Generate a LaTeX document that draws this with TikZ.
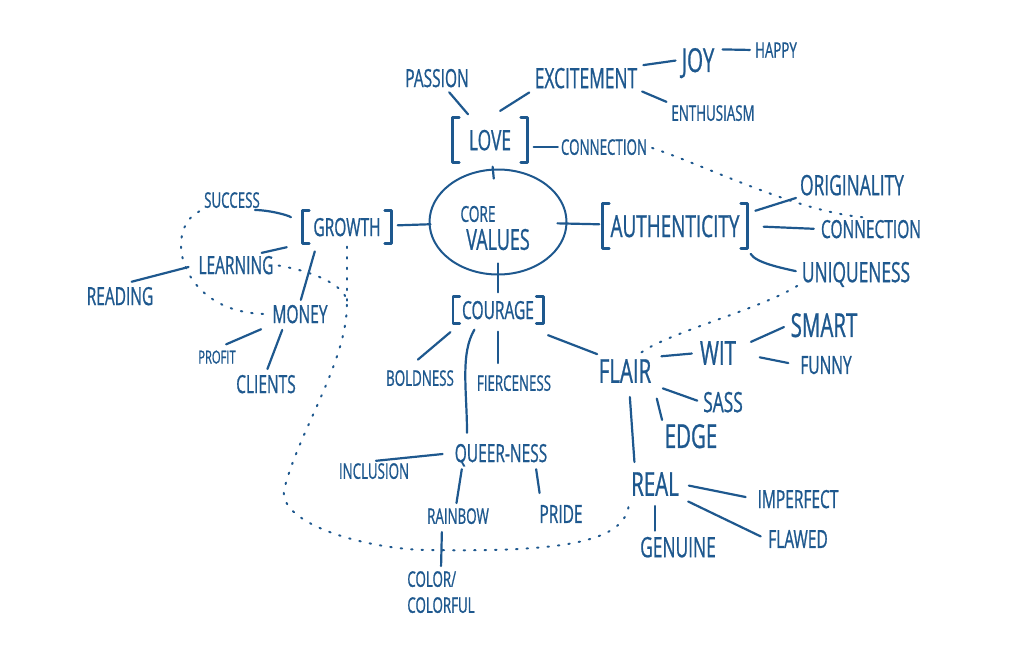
\documentclass[tikz,border=0pt]{standalone}
\usepackage{fontspec}
\setmainfont{Open Sans}[FakeStretch=0.62, FakeBold=0.8]
\usepackage{tikz}
\usetikzlibrary{shapes.geometric, calc}
\definecolor{ink}{RGB}{30,88,142}

\begin{document}
\begin{tikzpicture}[
    x=1pt, y=-1pt,
    word/.style={text=ink, inner sep=2pt, text depth=0pt},
    tinyword/.style={word, font=\fontsize{18}{20}\selectfont},
    smallword/.style={word, font=\fontsize{21.5}{24}\selectfont},
    midword/.style={word, font=\fontsize{25}{28}\selectfont},
    bigword/.style={word, font=\fontsize{28}{31}\selectfont},
    hugeword/.style={word, font=\fontsize{33}{36}\selectfont},
    value/.style={word, inner sep=0pt},
    bracket/.style={draw=ink, line width=2.6pt, line cap=round, line join=round},
    link/.style={draw=ink, line width=2.2pt, line cap=round, shorten <=4pt, shorten >=4pt},
    dots/.style={draw=ink, line width=2pt, line cap=round, dash pattern=on 1.5pt off 9pt, shorten <=3pt, shorten >=3pt}
]
\useasboundingbox (0,0) rectangle (1024,656);

% Core
\node[ellipse, draw=ink, line width=2pt, minimum width=137pt, minimum height=105pt, inner sep=0pt,
      align=center, text=ink, font=\fontsize{29}{28}\selectfont] (core) at (498,222)
      {\rule{0pt}{28pt}{\fontsize{22}{24}\selectfont CORE}\hspace{40pt}\mbox{}\\VALUES};

% Love branch
\node[value, bigword, minimum width=75pt, minimum height=45pt] (love) at (490,140) {LOVE};
\node[midword] (passion) at (437,78) {PASSION};
\node[bigword] (excite) at (586,78) {EXCITEMENT};
\node[hugeword] (joy) at (698,60) {JOY};
\node[smallword] (happy) at (776,50) {HAPPY};
\node[smallword] (enth) at (713,113) {ENTHUSIASM};
\node[smallword] (conn1) at (604,147) {CONNECTION};

% Growth branch
\node[value, midword, minimum width=89pt, minimum height=33pt] (growth) at (347,227) {GROWTH};
\node[smallword] (success) at (232,200) {SUCCESS};
\node[midword] (learning) at (236,265) {LEARNING};
\node[midword] (reading) at (120,296) {READING};
\node[midword] (money) at (300,314) {MONEY};
\node[tinyword] (profit) at (217,357) {PROFIT};
\node[midword] (clients) at (266,384) {CLIENTS};

% Authenticity branch
\node[value, font=\fontsize{30.5}{33}\selectfont, minimum width=145pt, minimum height=45pt] (auth) at (675,226) {AUTHENTICITY};
\node[bigword] (orig) at (852,185) {ORIGINALITY};
\node[midword] (conn2) at (871,229) {CONNECTION};
\node[bigword] (uniq) at (856,272) {UNIQUENESS};

% Courage branch
\node[value, midword, minimum width=90pt, minimum height=27pt] (courage) at (498,310) {COURAGE};
\node[smallword] (boldness) at (420,378) {BOLDNESS};
\node[smallword] (fierce) at (514,383) {FIERCENESS};
\node[midword] (queer) at (501,453) {QUEER-NESS};
\node[smallword] (inclusion) at (374,471) {INCLUSION};
\node[smallword] (rainbow) at (458,516) {RAINBOW};
\node[midword] (pride) at (561,514) {PRIDE};
\node[smallword, align=left, font=\fontsize{21.5}{26}\selectfont] (color) at (441,592) {COLOR/\\COLORFUL};
\node[hugeword] (flair) at (625,371) {FLAIR};
\node[hugeword] (wit) at (718,353) {WIT};
\node[hugeword] (smart) at (824,325) {SMART};
\node[midword] (funny) at (826,365) {FUNNY};
\node[bigword] (sass) at (723,402) {SASS};
\node[hugeword] (edge) at (691,436) {EDGE};
\node[hugeword] (real) at (655,484) {REAL};
\node[midword] (imperf) at (798,499) {IMPERFECT};
\node[midword] (flawed) at (798,539) {FLAWED};
\node[bigword] (genuine) at (678,547) {GENUINE};

% Brackets
\foreach \n in {love,growth,auth,courage} {
    \draw[bracket] ([xshift=7pt]\n.north west) -- (\n.north west) -- (\n.south west) -- ([xshift=7pt]\n.south west);
    \draw[bracket] ([xshift=-7pt]\n.north east) -- (\n.north east) -- (\n.south east) -- ([xshift=-7pt]\n.south east);
}

% Connections to the core
\draw[link, shorten >=-10pt] (love) -- (core);
\draw[link, shorten <=6pt, shorten >=-2pt] (growth) -- (core);
\draw[link, shorten <=-10pt, shorten >=3pt] (core) -- (auth);
\draw[link, shorten <=-12pt] (core) -- (courage);

% Love
\draw[link] (passion) -- (love);
\draw[link, shorten >=12pt] (excite.south west) -- (love.north);
\draw[link] (excite.north east) -- (joy.west);
\draw[link, shorten <=6pt, shorten >=3pt] (joy.30) -- (happy.west);
\draw[link, shorten <=3pt, shorten >=3pt] (excite.south east) -- (enth.north west);
\draw[link, shorten <=6pt, shorten >=1pt] (love.east |- conn1.west) -- (conn1.west);

% Growth
\draw[link, shorten <=1pt, shorten >=15pt] ([xshift=-8pt]success.south east) .. controls +(14,0) and +(-14,-12) .. (growth.west);
\draw[link, shorten >=16pt] ([xshift=-18pt]learning.north east) -- (growth.south west);
\draw[link, shorten <=8pt, shorten >=3pt] ([xshift=-30pt]growth.south) -- (money.north);
\draw[link, shorten <=12pt, shorten >=8pt] (reading.north) -- (learning.west);
\draw[link, shorten <=10pt, shorten >=10pt] (profit.north) -- (money.south west);
\draw[link, shorten <=5pt] ([xshift=-16pt]money.south) -- (clients.north);

% Authenticity
\draw[link, shorten <=8pt, shorten >=2pt] (auth.10) -- (orig.south west);
\draw[link, shorten <=16pt, shorten >=5pt] (auth.east) -- (conn2.west);
\draw[link, shorten <=6pt] (auth.south east) .. controls +(8,14) and +(-18,-4) .. (uniq.west);

% Courage
\draw[link, shorten <=13pt, shorten >=13pt] (courage.200) -- ([xshift=-12pt]boldness.north);
\draw[link, shorten <=8pt, shorten >=10pt] (courage.south) -- (courage.south |- fierce.north);
\draw[link, shorten <=7pt, shorten >=9pt] ([xshift=-20pt]courage.south) .. controls +(-18,30) and +(0,-50) .. ([xshift=-34pt]queer.north);
\draw[link, shorten <=32pt, shorten >=8pt] ([xshift=-25pt]courage.south east) -- ([xshift=8pt]flair.north west);
\draw[link, shorten <=2pt, shorten >=10pt] (inclusion.north) -- (queer.west);
\draw[link, shorten <=5pt, shorten >=3pt] ([xshift=10pt]queer.south west) -- ([xshift=-2pt]rainbow.north);
\draw[link, shorten <=5pt, shorten >=10pt] ([xshift=-14pt]queer.south east) -- ([xshift=-20pt]pride.north);
\draw[link, shorten <=6pt, shorten >=3pt] ([xshift=-16pt]rainbow.south) -- (color.north);

% Flair
\draw[link, shorten <=8pt, shorten >=6pt] (flair.north east) -- (wit.west);
\draw[link, shorten <=14pt, shorten >=5pt] (wit.15) -- (smart.west);
\draw[link, shorten <=22pt, shorten >=10pt] (wit.east) -- (funny.west);
\draw[link, shorten <=10pt, shorten >=4pt] (flair.south east) -- (sass.west);
\draw[link, shorten <=14pt, shorten >=2pt] (flair.south east) -- (edge.north west);
\draw[link, shorten <=12pt, shorten >=8pt] ([xshift=4pt]flair.south) -- ([xshift=-20pt]real.north);
\draw[link, shorten <=8pt, shorten >=10pt] (real.east) -- (imperf.west);
\draw[link, shorten <=8pt, shorten >=6pt] (real.south east) -- (flawed.west);
\draw[link, shorten <=8pt, shorten >=4pt] (real.south) -- (real.south |- genuine.north);

% Dotted links
\coordinate (merge) at (347,303);
\coordinate (dip) at (284,490);
\coordinate (floor) at (430,550);
\draw[dots] (conn1.east) .. controls +(60,20) and +(-70,-4) .. (conn2.north);
\draw[dots, shorten >=8pt] (uniq.south west) .. controls +(-40,25) and +(35,-25) .. ([xshift=10pt]flair.north);
\draw[dots] (success.south west) .. controls +(-40,20) and +(-90,0) .. (money.west);
\draw[dots, shorten >=0pt] (growth.south) -- (merge);
\draw[dots] (learning.east) .. controls +(45,8) and +(0,-15) .. (merge)
    .. controls +(0,60) and +(15,-60) .. (dip)
    .. controls +(-5,35) and +(-60,0) .. (floor)
    .. controls +(130,2) and +(0,45) .. (real.south west);

\end{tikzpicture}
\end{document}
